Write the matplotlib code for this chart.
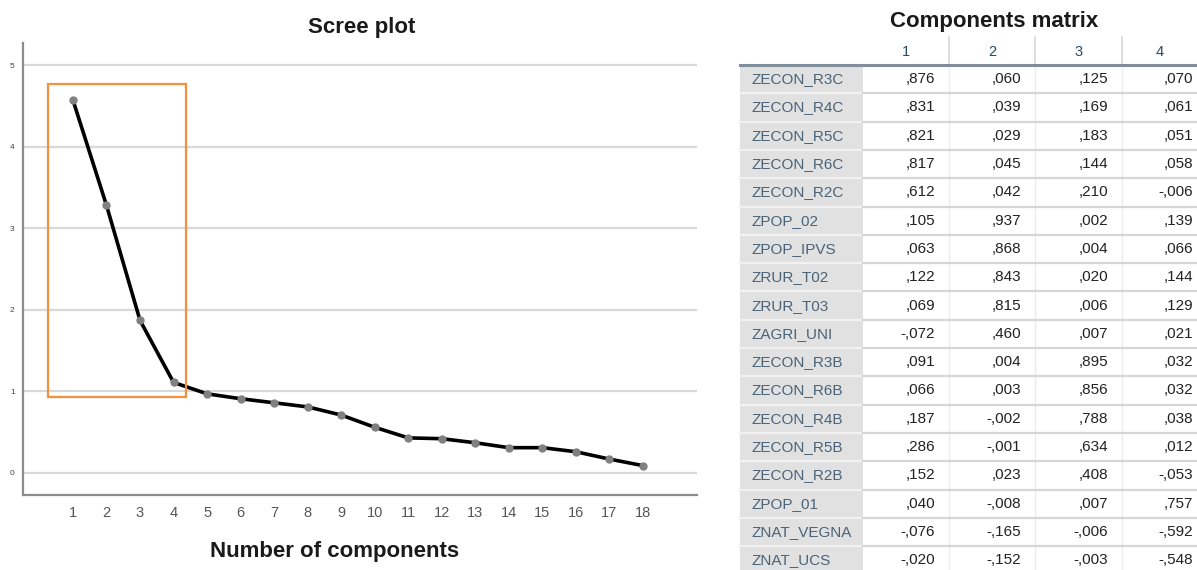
import matplotlib
matplotlib.use("Agg")
import matplotlib.pyplot as plt
from matplotlib.patches import Rectangle

plt.rcParams['font.family'] = ['Liberation Sans', 'DejaVu Sans']

# ---------------- data ----------------
components = list(range(1, 19))
eigenvalues = [4.57, 3.28, 1.87, 1.11, 0.97, 0.91, 0.86, 0.81, 0.71,
               0.56, 0.43, 0.42, 0.37, 0.31, 0.31, 0.26, 0.17, 0.09]
y_ticks = [0, 1, 2, 3, 4, 5]

variables = ["ZECON_R3C", "ZECON_R4C", "ZECON_R5C", "ZECON_R6C", "ZECON_R2C",
             "ZPOP_02", "ZPOP_IPVS", "ZRUR_T02", "ZRUR_T03", "ZAGRI_UNI",
             "ZECON_R3B", "ZECON_R6B", "ZECON_R4B", "ZECON_R5B", "ZECON_R2B",
             "ZPOP_01", "ZNAT_VEGNA", "ZNAT_UCS"]
comp1 = [0.876, 0.831, 0.821, 0.817, 0.612, 0.105, 0.063, 0.122, 0.069, -0.072,
         0.091, 0.066, 0.187, 0.286, 0.152, 0.040, -0.076, -0.020]
comp2 = [0.060, 0.039, 0.029, 0.045, 0.042, 0.937, 0.868, 0.843, 0.815, 0.460,
         0.004, 0.003, -0.002, -0.001, 0.023, -0.008, -0.165, -0.152]
comp3 = [0.125, 0.169, 0.183, 0.144, 0.210, 0.002, 0.004, 0.020, 0.006, 0.007,
         0.895, 0.856, 0.788, 0.634, 0.408, 0.007, -0.006, -0.003]
comp4 = [0.070, 0.061, 0.051, 0.058, -0.006, 0.139, 0.066, 0.144, 0.129, 0.021,
         0.032, 0.032, 0.038, 0.012, -0.053, 0.757, -0.592, -0.548]
col_headers = ["1", "2", "3", "4"]
highlight_x = (0.25, 4.37)
highlight_y = (0.93, 4.77)

W, H = 1197, 570
fig = plt.figure(figsize=(W / 100, H / 100), dpi=100)

# ---------------- scree plot ----------------
ax = fig.add_axes([23 / W, (H - 495) / H, (697 - 23) / W, (495 - 43) / H])
ax.set_xlim(-0.49, 19.61)
ax.set_ylim(-0.27, 5.27)
ax.set_yticks(y_ticks)
ax.set_xticks(components)
ax.set_xticklabels([str(c) for c in components])
ax.yaxis.grid(True, color='#d9d9d9', lw=1.6)
ax.set_axisbelow(True)
for s in ['top', 'right']:
    ax.spines[s].set_visible(False)
for s in ['left', 'bottom']:
    ax.spines[s].set_color('#8c8c8c')
    ax.spines[s].set_linewidth(1.6)
ax.tick_params(axis='y', length=0, pad=6, labelsize=6, labelcolor='#444444')
ax.tick_params(axis='x', length=0, pad=8, labelsize=10.5, labelcolor='#555555')

ax.plot(components, eigenvalues, color='black', lw=2.6, zorder=3,
        marker='o', markersize=5, markerfacecolor='#808080',
        markeredgecolor='#808080')
ax.add_patch(Rectangle((highlight_x[0], highlight_y[0]),
                       highlight_x[1] - highlight_x[0],
                       highlight_y[1] - highlight_y[0],
                       fill=False, edgecolor='#f4913f', lw=1.6, zorder=4))

fig.text(362 / W, 1 - 28 / H, "Scree plot", ha='center', va='center',
         fontsize=16, fontweight='bold', color='#1a1a1a')
fig.text(335 / W, 1 - 552 / H, "Number of components", ha='center', va='center',
         fontsize=16, fontweight='bold', color='#1a1a1a')

# ---------------- components table ----------------
tab = fig.add_axes([0, 0, 1, 1], zorder=5)
tab.set_xlim(0, W)
tab.set_ylim(H, 0)
tab.axis('off')
tab.patch.set_alpha(0)

label_x0, label_x1 = 740, 863
col_edges = [863, 949, 1035, 1122, 1209]
row_top = 65
row_h = 28.3
n_rows = len(variables)
table_bottom = row_top + row_h * n_rows

tab.add_patch(Rectangle((label_x0, row_top), label_x1 - label_x0,
                        table_bottom - row_top, facecolor='#e1e1e1',
                        edgecolor='none'))

# column dividers
for xe in col_edges[1:-1]:
    tab.plot([xe, xe], [37, row_top], color='#d8d8d8', lw=1.2)
    tab.plot([xe, xe], [row_top, table_bottom], color='#ececec', lw=1.0)

# row separators
for i in range(1, n_rows + 1):
    yy = row_top + row_h * i
    tab.plot([label_x0, label_x1], [yy, yy], color='#f2f2f2', lw=1.6)
    tab.plot([label_x1, W], [yy, yy], color='#d6d6d6', lw=1.6)

# header line
tab.plot([label_x0, W], [row_top, row_top], color='#7f8e9a', lw=2.2)


def fmt(v):
    s = f"{v:.3f}".replace("0.", ".", 1).replace(".", ",")
    return s


for j, h in enumerate(col_headers):
    cx = (col_edges[j] + min(col_edges[j + 1], W)) / 2
    tab.text(cx, 52, h, ha='center', va='center', fontsize=10.5,
             color='#264a60')

columns = [comp1, comp2, comp3, comp4]
for i, var in enumerate(variables):
    cy = row_top + row_h * (i + 0.5)
    tab.text(751, cy, var, ha='left', va='center', fontsize=11,
             color='#4a6378')
    for j, col in enumerate(columns):
        right = col_edges[j + 1] - 14 if j < 3 else 1193
        tab.text(right, cy, fmt(col[i]), ha='right', va='center',
                 fontsize=11, color='#222222')

fig.text(994 / W, 1 - 22 / H, "Components matrix", ha='center', va='center',
         fontsize=16, fontweight='bold', color='#1a1a1a')

fig.savefig("out.png", dpi=100)
